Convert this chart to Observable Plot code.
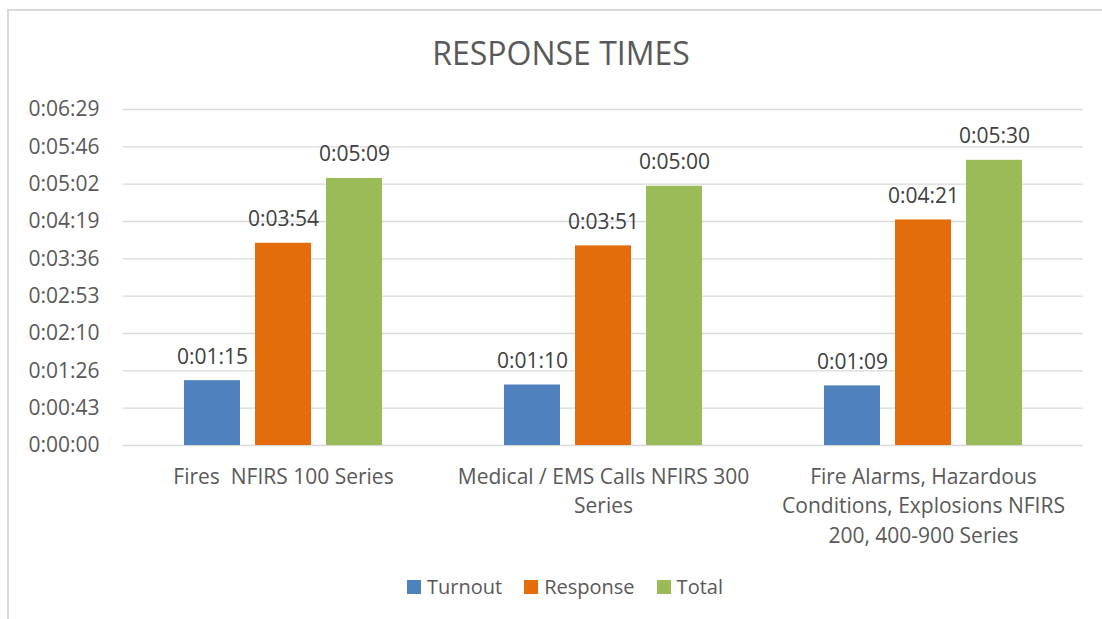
<!DOCTYPE html>
<html><head><meta charset="utf-8">
<script src="https://cdn.jsdelivr.net/npm/d3@7"></script>
<script src="https://cdn.jsdelivr.net/npm/@observablehq/plot@0.6"></script>
<style>
body{margin:0;background:#fff;font-family:"Open Sans",sans-serif;}
#wrap{position:relative;width:1102px;height:619px;overflow:hidden;background:#fff;}
#frame{position:absolute;left:7px;top:9px;width:1200px;height:700px;border-top:2px solid #d9d9d9;border-left:2px solid #d9d9d9;}
#title{position:absolute;left:0;width:1122px;top:37px;height:32px;line-height:32px;font-size:32px;color:#595959;text-align:center;}
#chart{position:absolute;left:0;top:90px;}
#chart svg text{white-space:pre;}
#legend{position:absolute;left:0;width:1130px;top:577px;height:20px;display:flex;justify-content:center;align-items:center;font-size:20px;line-height:20px;color:#595959;}
#legend .item{display:flex;align-items:center;margin:0 11px;}
#legend .sw{width:14px;height:14px;margin-right:6px;}
</style>
</head><body>
<div id="wrap">
  <div id="frame"></div>
  <div id="title">RESPONSE TIMES</div>
  <div id="chart"></div>
  <div id="legend"></div>
</div>
<script>
const categories = ["Fires  NFIRS 100 Series", "Medical / EMS Calls NFIRS 300 Series", "Fire Alarms, Hazardous Conditions, Explosions NFIRS 200, 400-900 Series"];
const categoryLabels = ["Fires  NFIRS 100 Series", "Medical / EMS Calls NFIRS 300\nSeries", "Fire Alarms, Hazardous\nConditions, Explosions NFIRS\n200, 400-900 Series"];
const series = ["Turnout", "Response", "Total"];
// values in seconds
const turnout = [75, 70, 69];
const response = [234, 231, 261];
const total = [309, 300, 330];
const colors = ["#4f81bd", "#e46c0a", "#9bbb59"];
const yTicks = [0, 43.2, 86.4, 129.6, 172.8, 216, 259.2, 302.4, 345.6, 388.8];
const yTickLabels = ["0:00:00", "0:00:43", "0:01:26", "0:02:10", "0:02:53", "0:03:36", "0:04:19", "0:05:02", "0:05:46", "0:06:29"];

const fmt = s => {
  const r = Math.round(s);
  const h = Math.floor(r / 3600), m = Math.floor((r % 3600) / 60), sec = r % 60;
  return `${h}:${String(m).padStart(2, "0")}:${String(sec).padStart(2, "0")}`;
};

const valuesBySeries = [turnout, response, total];
const rows = categories.flatMap((c, i) => series.map((s, j) => ({cat: c, series: s, value: valuesBySeries[j][i]})));

const chart = Plot.plot({
  width: 1102, height: 470,
  marginLeft: 122, marginRight: 19, marginTop: 19, marginBottom: 115,
  style: {fontFamily: "'Open Sans', sans-serif", fontSize: "21px", color: "#595959", background: "transparent", overflow: "visible"},
  fx: {domain: categories, padding: 0, label: null},
  x: {domain: series, paddingInner: 0.217, paddingOuter: 0.846, axis: null},
  y: {domain: [0, 388.8], axis: null},
  color: {domain: series, range: colors},
  marks: [
    Plot.ruleY(yTicks, {stroke: "#d9d9d9", strokeWidth: 1.3}),
    Plot.axisY(yTicks, {tickSize: 0, tickPadding: 24, tickFormat: d => yTickLabels[yTicks.indexOf(d)], label: null, fill: "#595959"}),
    Plot.barY(rows, {fx: "cat", x: "series", y: "value", fill: "series"}),
    Plot.text(rows, {fx: "cat", x: "series", y: "value", text: d => fmt(d.value), lineAnchor: "bottom", dy: -17, fill: "#404040", fontSize: 21}),
    Plot.axisFx({anchor: "bottom", tickSize: 0, tickPadding: 17, lineHeight: 1.42, tickFormat: d => categoryLabels[categories.indexOf(d)], label: null, fill: "#595959"})
  ]
});
document.getElementById("chart").appendChild(chart);

const legend = document.getElementById("legend");
series.forEach((s, i) => {
  const it = document.createElement("div");
  it.className = "item";
  const sw = document.createElement("div");
  sw.className = "sw";
  sw.style.background = colors[i];
  const t = document.createElement("span");
  t.textContent = s;
  it.appendChild(sw); it.appendChild(t);
  legend.appendChild(it);
});
</script>
</body></html>
